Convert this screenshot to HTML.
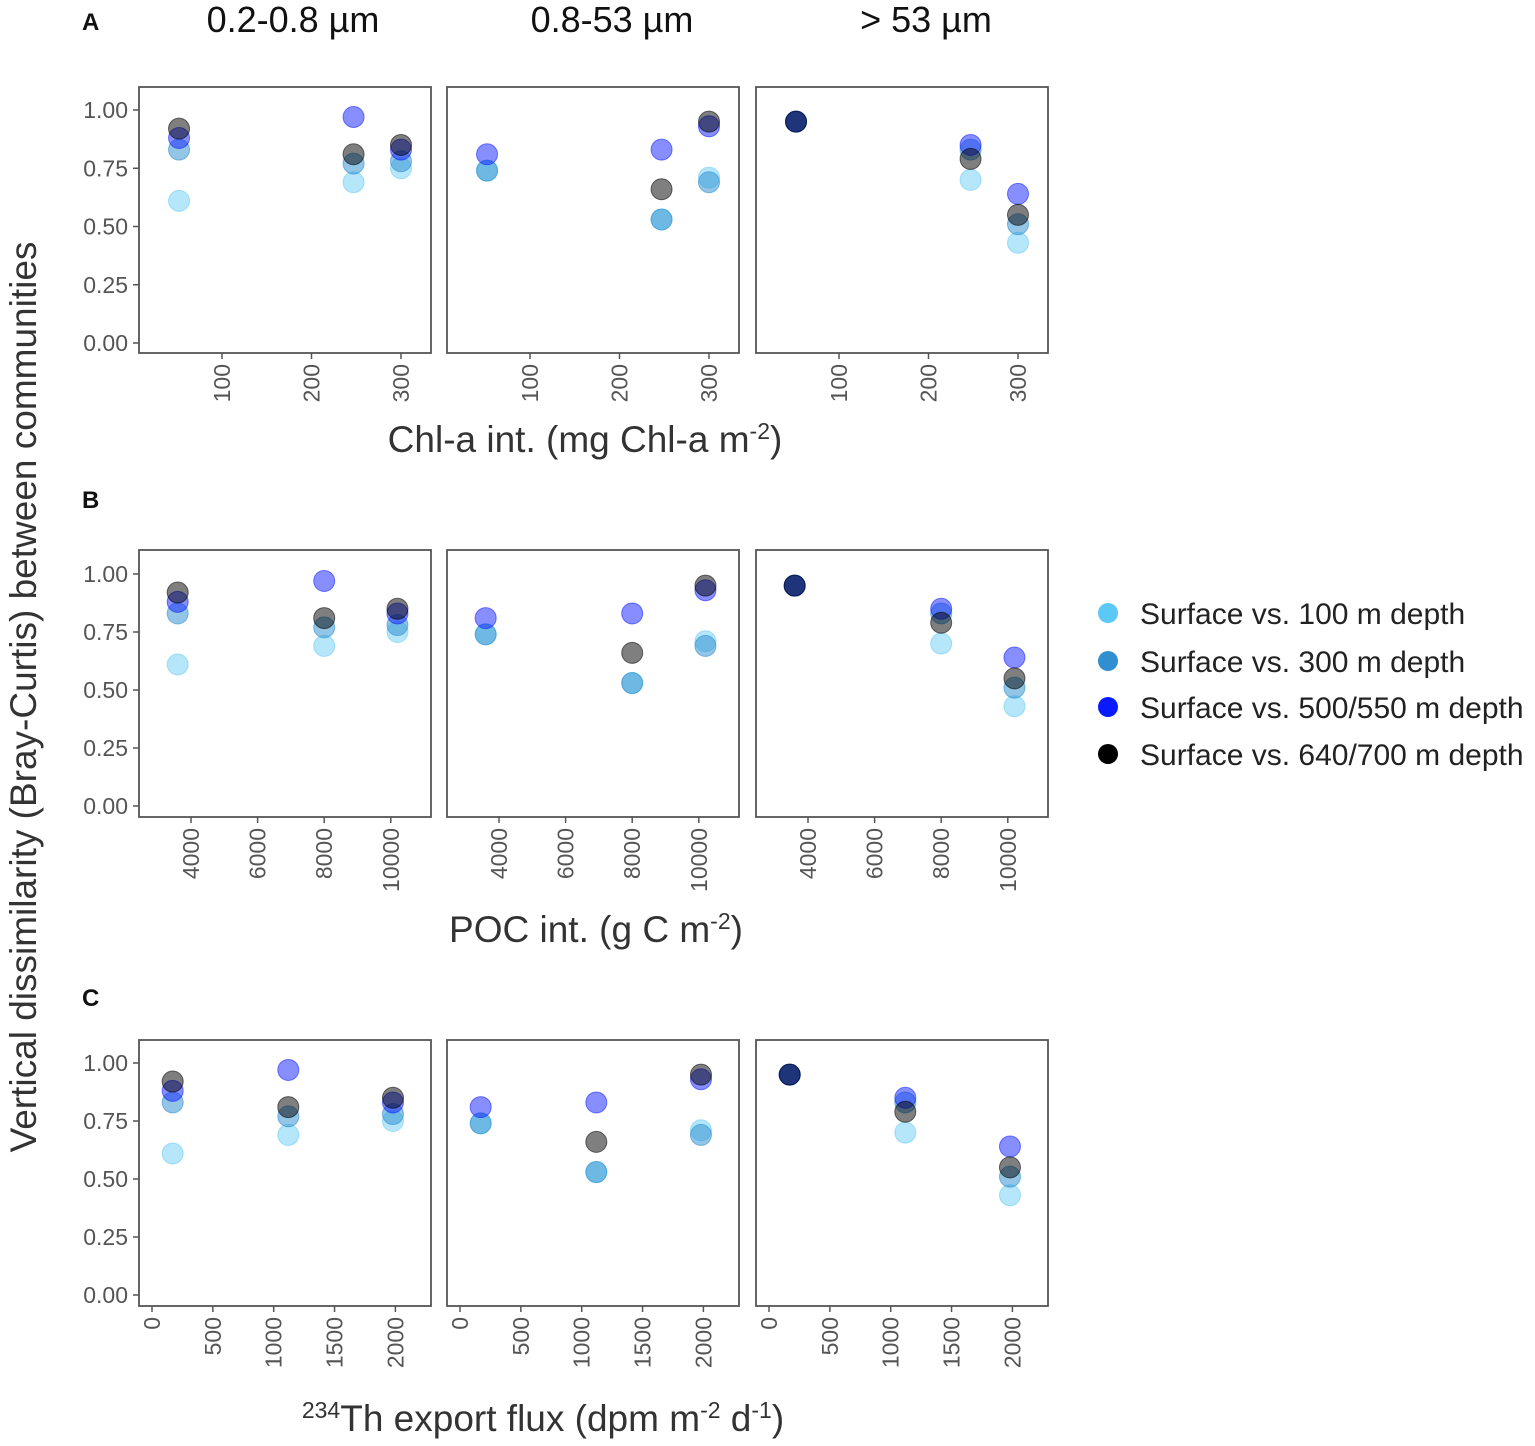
<!DOCTYPE html>
<html><head><meta charset="utf-8">
<style>
html,body{margin:0;padding:0;background:#fff;}
svg{display:block;font-family:"Liberation Sans",sans-serif;}
</style></head>
<body>
<svg id="chart" width="1535" height="1446" viewBox="0 0 1535 1446" xmlns="http://www.w3.org/2000/svg">
<g id="g"></g>
</svg>
<script>
// ---- data ----
const sizeClasses = ["0.2-0.8 µm", "0.8-53 µm", "> 53 µm"];
const seriesNames = ["Surface vs. 100 m depth","Surface vs. 300 m depth","Surface vs. 500/550 m depth","Surface vs. 640/700 m depth"];
const chlValues = [52, 247, 300];
const pocValues = [3600, 8000, 10200];
const thValues = [170, 1120, 1980];
// dissimilarity per size class [station][series]
const dissFine = [[0.61,0.83,0.88,0.92],[0.69,0.77,0.97,0.81],[0.75,0.78,0.83,0.85]];
const dissMid = [[0.74,0.74,0.81,null],[0.53,0.53,0.83,0.66],[0.71,0.69,0.93,0.95]];
const dissLarge = [[0.95,0.95,0.95,0.95],[0.70,0.83,0.85,0.79],[0.43,0.51,0.64,0.55]];
const yTicks = [0, 0.25, 0.5, 0.75, 1.0];
const yTickLabels = ["0.00","0.25","0.50","0.75","1.00"];
const chlTicks = [100, 200, 300];
const pocTicks = [4000, 6000, 8000, 10000];
const thTicks = [0, 500, 1000, 1500, 2000];

const NS = "http://www.w3.org/2000/svg";
const g = document.getElementById('g');
function el(tag, attrs, parent, text){
  const e = document.createElementNS(NS, tag);
  for (const k in attrs) e.setAttribute(k, attrs[k]);
  if (text !== undefined) e.textContent = text;
  (parent||g).appendChild(e);
  return e;
}
const fills = ["rgba(91,200,245,0.45)","rgba(40,140,205,0.5)","rgba(15,30,255,0.5)","rgba(0,0,0,0.5)"];
const strokes = ["rgba(91,200,245,0.5)","rgba(40,140,205,0.55)","rgba(15,30,255,0.55)","rgba(0,0,0,0.55)"];
const solid = ["#5bc8f5","#2f8fd0","#0a1aff","#000"];
const allDiss = [dissFine, dissMid, dissLarge];
const panelX = [139, 447, 756];
const panelW = 292;

const rows = [
  {top:87, bot:353, y1:110, y0:343, xs:chlValues, ticks:chlTicks, xmap:v=>222+(v-100)*0.895, label:"A", labelY:30},
  {top:550, bot:817, y1:574, y0:806, xs:pocValues, ticks:pocTicks, xmap:v=>191+(v-4000)*0.0333, label:"B", labelY:508},
  {top:1040, bot:1306, y1:1063, y0:1295, xs:thValues, ticks:thTicks, xmap:v=>152+v*0.1217, label:"C", labelY:1006},
];

const titleX = [293, 612, 926];
sizeClasses.forEach((t,i)=>{
  const e = el('text',{x:titleX[i], y:32, 'text-anchor':'middle','font-size':36,fill:'#111'},g,t);
  
  
});

rows.forEach((r,ri)=>{
  const lab = el('text',{x:82,y:r.labelY,'font-size':24,'font-weight':'bold',fill:'#111'},g,r.label);
  
  
  const ymap = v => r.y0 + (r.y1 - r.y0)*v;
  panelX.forEach((px,pi)=>{
    const off = px - panelX[0];
    const pg = el('g',{});
    
    
    el('rect',{x:px,y:r.top,width:panelW,height:r.bot-r.top,fill:'#fff',stroke:'#555','stroke-width':1.8},pg);
    if (pi===0){
      yTicks.forEach((t,ti)=>{
        const y = ymap(t);
        el('line',{x1:px-6,x2:px,y1:y,y2:y,stroke:'#555','stroke-width':1.5},pg);
        const tl = el('text',{x:px-11,y:y+8,'text-anchor':'end','font-size':23,fill:'#555'},pg,yTickLabels[ti]);
        
        
      });
    }
    r.ticks.forEach(t=>{
      const x = r.xmap(t)+off;
      el('line',{x1:x,x2:x,y1:r.bot,y2:r.bot+6,stroke:'#555','stroke-width':1.5},pg);
      const tl = el('text',{x:0,y:0,'text-anchor':'end','font-size':23,fill:'#555',transform:`translate(${x+8},${r.bot+11}) rotate(-90)`},pg,String(t));
      
      
    });
    const d = allDiss[pi];
    for (let s=0;s<4;s++){
      r.xs.forEach((xv,si)=>{
        if (d[si][s]===null) return;
        const c = el('circle',{cx:r.xmap(xv)+off, cy:ymap(d[si][s]), r:10.5, fill:fills[s], stroke:strokes[s], 'stroke-width':1},pg);
        
        
      });
    }
  });
});

const xt1 = el('text',{x:585,y:452,'text-anchor':'middle','font-size':37,fill:'#333'},g);


xt1.innerHTML = 'Chl-a int. (mg Chl-a  m<tspan dy="-13" font-size="23">-2</tspan><tspan dy="13">)</tspan>';
const xt2 = el('text',{x:596,y:942,'text-anchor':'middle','font-size':37,fill:'#333'},g);


xt2.innerHTML = 'POC int. (g C  m<tspan dy="-13" font-size="23">-2</tspan><tspan dy="13">)</tspan>';
const xt3 = el('text',{x:543,y:1431,'text-anchor':'middle','font-size':37,fill:'#333'},g);


xt3.innerHTML = '<tspan dy="-13" font-size="23">234</tspan><tspan dy="13">Th export flux (dpm m</tspan><tspan dy="-13" font-size="23">-2</tspan><tspan dy="13"> d</tspan><tspan dy="-13" font-size="23">-1</tspan><tspan dy="13">)</tspan>';
const yt = el('text',{x:0,y:0,'text-anchor':'middle','font-size':37,fill:'#333',transform:'translate(36,697) rotate(-90)'},g,'Vertical dissimilarity (Bray-Curtis) between communities');



const legY = [613, 661, 707, 754];
seriesNames.forEach((n,i)=>{
  const lg = el('g',{});
  
  
  el('circle',{cx:1108,cy:legY[i],r:10,fill:solid[i]},lg);
  el('text',{x:1140,y:legY[i]+11,'font-size':30,fill:'#222'},lg,n);
});
</script>
</body></html>
